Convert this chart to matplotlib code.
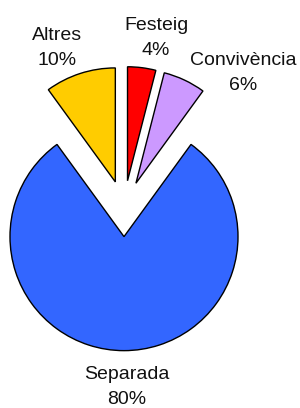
import matplotlib
matplotlib.use("Agg")
import matplotlib.pyplot as plt

categories = ["Festeig", "Convivència", "Separada", "Altres"]
values = [4, 6, 80, 10]
colors = ["#FF0000", "#CC99FF", "#3366FF", "#FFCC00"]

W, H = 300, 408
fig = plt.figure(figsize=(W / 100, H / 100), dpi=100)
ax = fig.add_axes([0, 0, 1, 1])

radius = 114
center = (124, H - 208.6)
# matplotlib explode offsets are in data units
ax.pie(values, colors=colors, startangle=90, counterclock=False,
       explode=[0.246 * radius] * len(values), radius=radius, center=center,
       wedgeprops=dict(edgecolor="black", linewidth=1.0))

# label anchor positions in pixel units (x, y from top)
label_pos = [(156, 38), (243, 73), (127, 387), (57, 48)]
for cat, val, (lx, ly) in zip(categories, values, label_pos):
    ax.text(lx, H - ly, f"{cat}\n{val}%", ha="center", va="center",
            fontsize=14, family="Liberation Sans", linespacing=1.6,
            color="#111111")

ax.set_xlim(0, W)
ax.set_ylim(0, H)
ax.set_aspect("equal")
ax.axis("off")
fig.savefig("out.png", dpi=100)
